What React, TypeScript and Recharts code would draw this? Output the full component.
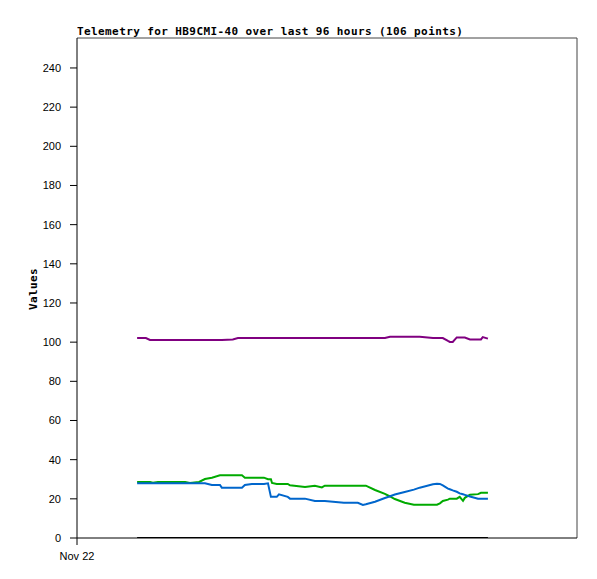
import React from 'react';
import { LineChart, Line, XAxis, YAxis, Label, ReferenceLine } from 'recharts';

// hours since Nov 22 00:00
const hours = [
  16.4, 18.8, 19.9, 20.7, 22.1, 29.5, 30.8, 33.3, 34.9, 36.8, 39.0, 39.5, 42.5, 43.9,
  45.0, 45.8, 47.7, 51.0, 52.1, 52.9, 53.2, 54.5, 55.1, 57.5, 58.1, 62.2, 64.9, 66.8,
  67.6, 72.8, 76.6, 78.0, 78.8, 81.3, 84.0, 85.4, 86.7, 89.4, 91.9, 93.5, 97.1, 98.2,
  99.0, 99.8, 101.2, 101.7, 102.5, 103.6, 104.4, 105.3, 105.8, 107.2, 109.4, 110.2, 110.7, 112.1,
];

const purpleValues = [
  102.1, 102.1, 101.1, 101.1, 101.1, 101.1, 101.1, 101.1, 101.1, 101.1, 101.1, 101.1, 101.4, 102.1,
  102.1, 102.1, 102.1, 102.1, 102.1, 102.1, 102.1, 102.1, 102.1, 102.1, 102.1, 102.1, 102.1, 102.1,
  102.1, 102.1, 102.1, 102.1, 102.1, 102.1, 102.1, 102.8, 102.8, 102.8, 102.8, 102.8, 102.1, 102.1,
  102.1, 102.1, 100.6, 100.1, 100.1, 102.4, 102.4, 102.4, 102.4, 101.4, 101.4, 101.4, 102.6, 101.8,
];

const greenValues = [
  28.6, 28.6, 28.6, 28.2, 28.6, 28.6, 28.1, 28.6, 30.1, 30.8, 32.0, 32.0, 32.0, 32.0,
  32.0, 30.8, 30.8, 30.8, 30.0, 30.0, 28.1, 27.6, 27.6, 27.6, 26.9, 26.0, 26.7, 25.8,
  26.7, 26.7, 26.7, 26.7, 26.7, 24.5, 22.5, 21.2, 19.9, 18.0, 17.0, 17.0, 17.0, 17.0,
  17.7, 18.9, 19.6, 20.1, 20.1, 20.1, 21.0, 19.0, 20.5, 22.1, 22.4, 23.1, 23.1, 23.1,
];

const blueValues = [
  27.9, 27.9, 27.9, 27.9, 27.9, 27.9, 27.9, 27.9, 27.9, 27.1, 27.1, 25.7, 25.7, 25.7,
  25.7, 27.1, 27.6, 27.6, 27.9, 21.0, 21.0, 21.0, 22.3, 21.0, 20.1, 20.1, 18.9, 18.9,
  18.9, 18.0, 18.0, 16.9, 17.2, 18.5, 20.4, 21.3, 22.2, 23.5, 24.7, 25.7, 27.4, 27.7,
  27.6, 26.9, 25.2, 24.9, 24.3, 23.6, 22.8, 22.3, 22.0, 21.2, 20.0, 20.1, 20.1, 20.1,
];

const blackValues = hours.map(() => 0);

const yTicks = [0, 20, 40, 60, 80, 100, 120, 140, 160, 180, 200, 220, 240];
const xTicks = [0];
const xTickLabels = ['Nov 22'];
const xMax = 136.4;
const yMax = 255.3;

const data = hours.map((h, i) => ({
  h,
  purple: purpleValues[i],
  green: greenValues[i],
  blue: blueValues[i],
  black: blackValues[i],
}));

const tickStyle = { fill: '#000', fontSize: 11, fontFamily: '"Liberation Sans", Arial, sans-serif' };
const monoBold = '"DejaVu Sans Mono", monospace';

const App = () => {
  return (
    <div style={{ position: 'absolute', left: 0, top: 0, width: 597, height: 579, background: '#fff' }}>
      <LineChart width={597} height={579} data={data} margin={{ top: 38, right: 20, bottom: 0, left: 0 }}>
        <XAxis
          dataKey="h"
          type="number"
          domain={[0, xMax]}
          ticks={xTicks}
          tickFormatter={(v: number) => xTickLabels[xTicks.indexOf(v)] ?? ''}
          height={41}
          stroke="#000"
          tickSize={7}
          tickMargin={7}
          tick={tickStyle}
          allowDataOverflow
        />
        <YAxis
          type="number"
          domain={[0, yMax]}
          ticks={yTicks}
          width={77}
          stroke="#000"
          tickSize={7}
          tickMargin={9}
          tick={tickStyle}
          allowDataOverflow
          interval={0}
        >
          <Label
            content={() => (
              <text
                x={33}
                y={289}
                transform="rotate(-90 33 289)"
                textAnchor="middle"
                dominantBaseline="central"
                style={{ fontFamily: monoBold, fontWeight: 'bold', fontSize: 11, letterSpacing: 0.4 }}
                fill="#000"
              >
                Values
              </text>
            )}
          />
        </YAxis>
        <ReferenceLine y={yMax} stroke="#444" strokeWidth={1} ifOverflow="extendDomain" />
        <ReferenceLine x={xMax} stroke="#444" strokeWidth={1} ifOverflow="extendDomain" />
        <Line dataKey="purple" type="linear" stroke="#800080" strokeWidth={2} dot={false} isAnimationActive={false} />
        <Line dataKey="green" type="linear" stroke="#00aa00" strokeWidth={2} dot={false} isAnimationActive={false} />
        <Line dataKey="blue" type="linear" stroke="#0066cc" strokeWidth={2} dot={false} isAnimationActive={false} />
        <Line dataKey="black" type="linear" stroke="#000" strokeWidth={2} dot={false} isAnimationActive={false} />
      </LineChart>
      <div
        style={{
          position: 'absolute',
          left: 77,
          top: 25,
          fontFamily: monoBold,
          fontWeight: 'bold',
          fontSize: 11,
          letterSpacing: 0.4,
          lineHeight: '13px',
          whiteSpace: 'nowrap',
          color: '#000',
        }}
      >
        Telemetry for HB9CMI-40 over last 96 hours (106 points)
      </div>
    </div>
  );
};

export default App;
